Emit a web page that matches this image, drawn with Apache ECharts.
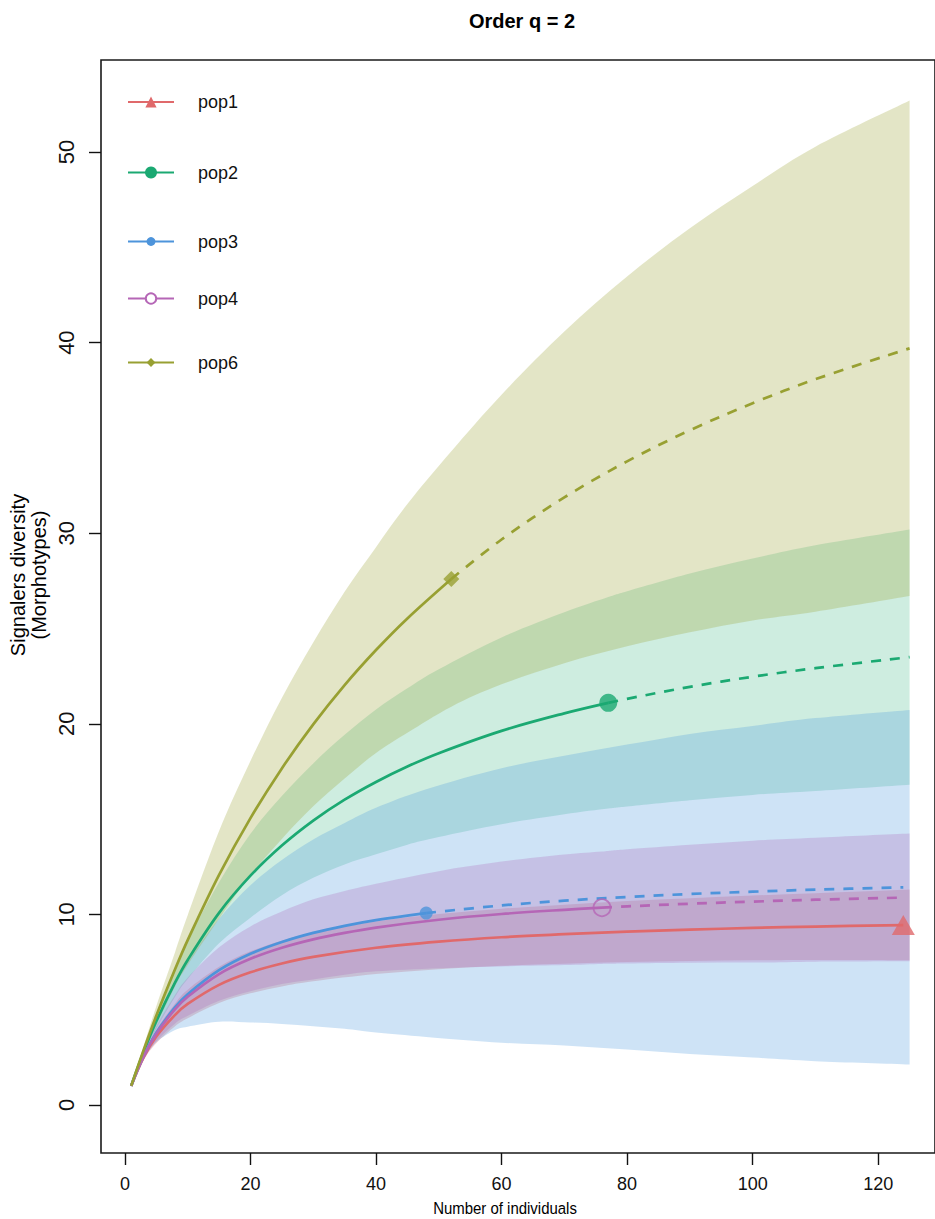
<!DOCTYPE html>
<html><head><meta charset="utf-8">
<script src="https://cdn.jsdelivr.net/npm/echarts@6/dist/echarts.min.js"></script>
<style>html,body{margin:0;padding:0;background:#fff}#c{width:935px;height:1219px}</style>
</head><body><div id="c"></div>
<script>
// ---- tick labels ----
const xTicks = [0, 20, 40, 60, 80, 100, 120];
const yTicks = [0, 10, 20, 30, 40, 50];
const popNames = ['pop1', 'pop2', 'pop3', 'pop4', 'pop6'];

// ---- pop1 ----
const pop1Obs = [124, 9.44];
const pop1RareX = [1,3,5,8,10,15,20,25,30,40,50,60,70,80,90,100,110,124];
const pop1RareY = [1,2.51,3.59,4.73,5.30,6.30,6.96,7.42,7.77,8.25,8.57,8.80,8.96,9.10,9.20,9.29,9.36,9.44];
const pop1ExtX = [];
const pop1ExtY = [];
const pop1BandX = [1,3,5,8,10,15,20,25,30,40,50,60,70,80,90,100,110,125];
const pop1Lower = [1,2.36,3.24,4.13,4.55,5.35,5.86,6.22,6.49,6.87,7.12,7.30,7.41,7.50,7.55,7.59,7.61,7.60];
const pop1Upper = [1,2.66,3.94,5.33,6.05,7.25,8.06,8.62,9.05,9.63,10.02,10.30,10.51,10.70,10.85,10.99,11.11,11.30];

// ---- pop2 ----
const pop2Obs = [77, 21.1];
const pop2RareX = [1,3,5,8,10,15,20,25,30,35,40,45,50,60,70,77];
const pop2RareY = [1,2.80,4.39,6.43,7.61,10.08,12.03,13.61,14.92,16.02,16.95,17.76,18.46,19.63,20.55,21.1];
const pop2ExtX = [77,80,90,100,110,125];
const pop2ExtY = [21.1,21.31,21.94,22.47,22.92,23.5];
const pop2BandX = [1,3,5,8,10,15,20,25,30,35,40,45,50,60,70,77,80,90,100,110,125];
const pop2Lower = [1,2.65,3.99,5.68,6.61,8.48,9.83,11.01,11.92,12.62,13.15,13.66,14.06,14.73,15.25,15.55,15.66,15.99,16.27,16.47,16.8];
const pop2Upper = [1,2.95,4.79,7.18,8.61,11.68,14.23,16.21,17.92,19.42,20.75,21.86,22.86,24.53,25.85,26.65,26.96,27.89,28.67,29.37,30.2];

// ---- pop3 ----
const pop3Obs = [48, 10.07];
const pop3RareX = [1,3,5,8,10,15,20,25,30,35,40,48];
const pop3RareY = [1,2.59,3.79,5.13,5.81,7.07,7.93,8.55,9.03,9.40,9.70,10.07];
const pop3ExtX = [48,60,70,80,90,100,110,124];
const pop3ExtY = [10.07,10.47,10.72,10.91,11.07,11.19,11.30,11.42];
const pop3BandX = [1,3,5,8,10,15,20,25,30,35,40,48,60,70,80,90,100,110,125];
const pop3Lower = [1,2.39,3.29,3.93,4.11,4.37,4.33,4.25,4.13,4.00,3.80,3.57,3.27,3.12,2.91,2.67,2.49,2.30,2.13];
const pop3Upper = [1,2.79,4.29,6.33,7.51,9.77,11.53,12.85,13.93,14.80,15.60,16.57,17.67,18.32,18.91,19.47,19.89,20.30,20.73];

// ---- pop4 ----
const pop4Obs = [76, 10.35];
const pop4RareX = [1,3,5,8,10,15,20,25,30,35,40,50,60,70,76];
const pop4RareY = [1,2.57,3.74,5.03,5.68,6.87,7.67,8.25,8.69,9.03,9.31,9.72,10.02,10.24,10.35];
const pop4ExtX = [76,80,90,100,110,124];
const pop4ExtY = [10.35,10.42,10.56,10.67,10.77,10.88];
const pop4BandX = [1,3,5,8,10,15,20,25,30,35,40,50,60,70,76,80,90,100,110,125];
const pop4Lower = [1,2.37,3.34,4.28,4.68,5.47,5.97,6.35,6.59,6.83,7.01,7.17,7.27,7.34,7.40,7.42,7.46,7.47,7.52,7.54];
const pop4Upper = [1,2.77,4.14,5.78,6.68,8.27,9.37,10.15,10.79,11.23,11.61,12.27,12.77,13.14,13.30,13.42,13.66,13.87,14.02,14.24];

// ---- pop6 ----
const pop6Obs = [52, 27.6];
const pop6RareX = [1,3,5,8,10,15,20,25,30,35,40,45,52];
const pop6RareY = [1,2.90,4.68,7.13,8.65,12.07,15.05,17.66,19.97,22.03,23.87,25.53,27.6];
const pop6ExtX = [52,60,70,80,90,100,110,125];
const pop6ExtY = [27.6,29.67,31.88,33.77,35.4,36.82,38.08,39.7];
const pop6BandX = [1,3,5,8,10,15,20,25,30,35,40,45,52,60,70,80,90,100,110,125];
const pop6Lower = [1,2.70,4.18,6.23,7.35,9.77,12.05,13.96,15.67,17.13,18.47,19.53,20.90,22.07,23.18,24.07,24.80,25.42,25.88,26.70];
const pop6Upper = [1,3.10,5.18,8.03,9.95,14.37,18.05,21.36,24.27,26.93,29.27,31.53,34.30,37.27,40.58,43.47,46.00,48.22,50.28,52.70];

// ---- styling ----
const lineColors = {pop1:'#E0696B', pop2:'#1BA972', pop3:'#4D94DB', pop4:'#B566B6', pop6:'#98A032'};
const bandColors = {pop1:'rgba(225,100,105,0.30)', pop2:'rgba(30,175,115,0.22)', pop3:'rgba(75,150,220,0.27)', pop4:'rgba(175,105,185,0.27)', pop6:'rgba(155,160,50,0.28)'};
const symbols = {pop1:'triangle', pop2:'circle', pop3:'circle', pop4:'emptyCircle', pop6:'diamond'};
const obsSizes = {pop1:[23,20], pop2:18, pop3:13, pop4:17, pop6:16};
const legendCenters = {pop1:100, pop2:171, pop3:238, pop4:296, pop6:359};
const legendItemH = {pop1:14, pop2:15, pop3:11, pop4:13, pop6:11};

const pops = {
  pop1:{obs:pop1Obs, rx:pop1RareX, ry:pop1RareY, ex:pop1ExtX, ey:pop1ExtY, bx:pop1BandX, lo:pop1Lower, hi:pop1Upper},
  pop2:{obs:pop2Obs, rx:pop2RareX, ry:pop2RareY, ex:pop2ExtX, ey:pop2ExtY, bx:pop2BandX, lo:pop2Lower, hi:pop2Upper},
  pop3:{obs:pop3Obs, rx:pop3RareX, ry:pop3RareY, ex:pop3ExtX, ey:pop3ExtY, bx:pop3BandX, lo:pop3Lower, hi:pop3Upper},
  pop4:{obs:pop4Obs, rx:pop4RareX, ry:pop4RareY, ex:pop4ExtX, ey:pop4ExtY, bx:pop4BandX, lo:pop4Lower, hi:pop4Upper},
  pop6:{obs:pop6Obs, rx:pop6RareX, ry:pop6RareY, ex:pop6ExtX, ey:pop6ExtY, bx:pop6BandX, lo:pop6Lower, hi:pop6Upper}
};

const zip = (xs, ys) => xs.map((x, i) => [x, ys[i]]);

// Catmull-Rom -> cubic bezier segments (rendering of a smooth edge through the pixel points)
function bezierThrough(pts) {
  let d = '';
  for (let i = 0; i < pts.length - 1; i++) {
    const p0 = pts[i - 1] || pts[i], p1 = pts[i], p2 = pts[i + 1], p3 = pts[i + 2] || pts[i + 1];
    const t = 1 / 6;
    const c1x = p1[0] + (p2[0] - p0[0]) * t, c1y = p1[1] + (p2[1] - p0[1]) * t;
    const c2x = p2[0] - (p3[0] - p1[0]) * t, c2y = p2[1] - (p3[1] - p1[1]) * t;
    d += ' C' + c1x.toFixed(2) + ',' + c1y.toFixed(2) + ' ' + c2x.toFixed(2) + ',' + c2y.toFixed(2) + ' ' + p2[0].toFixed(2) + ',' + p2[1].toFixed(2);
  }
  return d;
}

const series = [];
// confidence bands
popNames.forEach(p => {
  const d = pops[p];
  series.push({
    type:'custom', name:p+'_ci', silent:true, z:1, clip:true,
    data:[[d.bx[0], d.lo[0]]],
    renderItem:(params, api) => {
      const up = d.bx.map((x, i) => api.coord([x, d.hi[i]]));
      const lo = d.bx.map((x, i) => api.coord([x, d.lo[i]])).reverse();
      const path = 'M' + up[0][0].toFixed(2) + ',' + up[0][1].toFixed(2) + bezierThrough(up) +
        ' L' + lo[0][0].toFixed(2) + ',' + lo[0][1].toFixed(2) + bezierThrough(lo) + ' Z';
      return {type:'path', shape:{pathData:path}, style:{fill:bandColors[p], stroke:null}};
    }
  });
});
// curves and observed points
popNames.forEach(p => {
  const d = pops[p];
  series.push({type:'line', name:p, data:zip(d.rx, d.ry), smooth:0.35, showSymbol:false,
    symbol:symbols[p], z:3, silent:true,
    itemStyle:{color:lineColors[p]},
    lineStyle:{color:lineColors[p], width:2.7}});
  if (d.ex.length) {
    series.push({type:'line', name:p+'_ext', data:zip(d.ex, d.ey), smooth:0.35, showSymbol:false,
      symbol:'none', z:3, silent:true, lineStyle:{color:lineColors[p], width:2.7, type:[10,9]}});
  }
  series.push({type:'scatter', name:p+'_obs', data:[d.obs], symbol: p==='pop4' ? 'circle' : symbols[p],
    symbolSize: obsSizes[p], z:4, silent:true,
    itemStyle: p==='pop4' ? {color:'rgba(0,0,0,0)', borderColor:lineColors[p], borderWidth:1.8} : {color:lineColors[p]}});
});

const legends = popNames.map(p => ({
  data:[p], orient:'vertical', left:127, top: legendCenters[p] - legendItemH[p]/2, padding:0,
  itemWidth:46, itemHeight:legendItemH[p], selectedMode:false,
  textStyle:{fontSize:18, fontFamily:'Liberation Sans, Arial, sans-serif', color:'#111', padding:[0,0,0,19]}
}));

const font = "'Liberation Sans', Arial, sans-serif";
const option = {
  animation:false,
  backgroundColor:'#ffffff',
  grid:{left:101, top:60, right:-3, bottom:66, show:true, borderColor:'#1a1a1a', borderWidth:1.6, backgroundColor:'transparent'},
  xAxis:{type:'value', min:-3.81, max:129.05, splitLine:{show:false}, axisLine:{show:false, onZero:false},
    axisTick:{show:true, inside:false, length:12, customValues:xTicks, lineStyle:{color:'#111', width:1.4}},
    axisLabel:{customValues:xTicks, fontSize:18, fontFamily:font, color:'#111', margin:22}},
  yAxis:{type:'value', min:-2.52, max:54.83, splitLine:{show:false}, axisLine:{show:false, onZero:false},
    axisTick:{show:true, inside:false, length:12, customValues:yTicks, lineStyle:{color:'#111', width:1.4}},
    axisLabel:{customValues:yTicks, fontSize:22, fontFamily:font, color:'#111', margin:24, rotate:90}},
  legend:legends,
  graphic:[
    {type:'text', x:522, y:21, style:{text:'Order q = 2', font:"bold 20px "+font, fill:'#000', textAlign:'center', textVerticalAlign:'middle'}},
    {type:'text', x:505, y:1208, scaleX:0.88, style:{text:'Number of individuals', font:"17px "+font, fill:'#000', textAlign:'center', textVerticalAlign:'middle'}},
    {type:'text', x:28, y:575, rotation:Math.PI/2, style:{text:'Signalers diversity\n(Morphotypes)', font:"20px "+font, lineHeight:21, fill:'#000', textAlign:'center', textVerticalAlign:'middle'}}
  ],
  series:series
};
const chart = echarts.init(document.getElementById('c'), null, {renderer:'svg', width:935, height:1219});
chart.setOption(option);
</script>
</body></html>
